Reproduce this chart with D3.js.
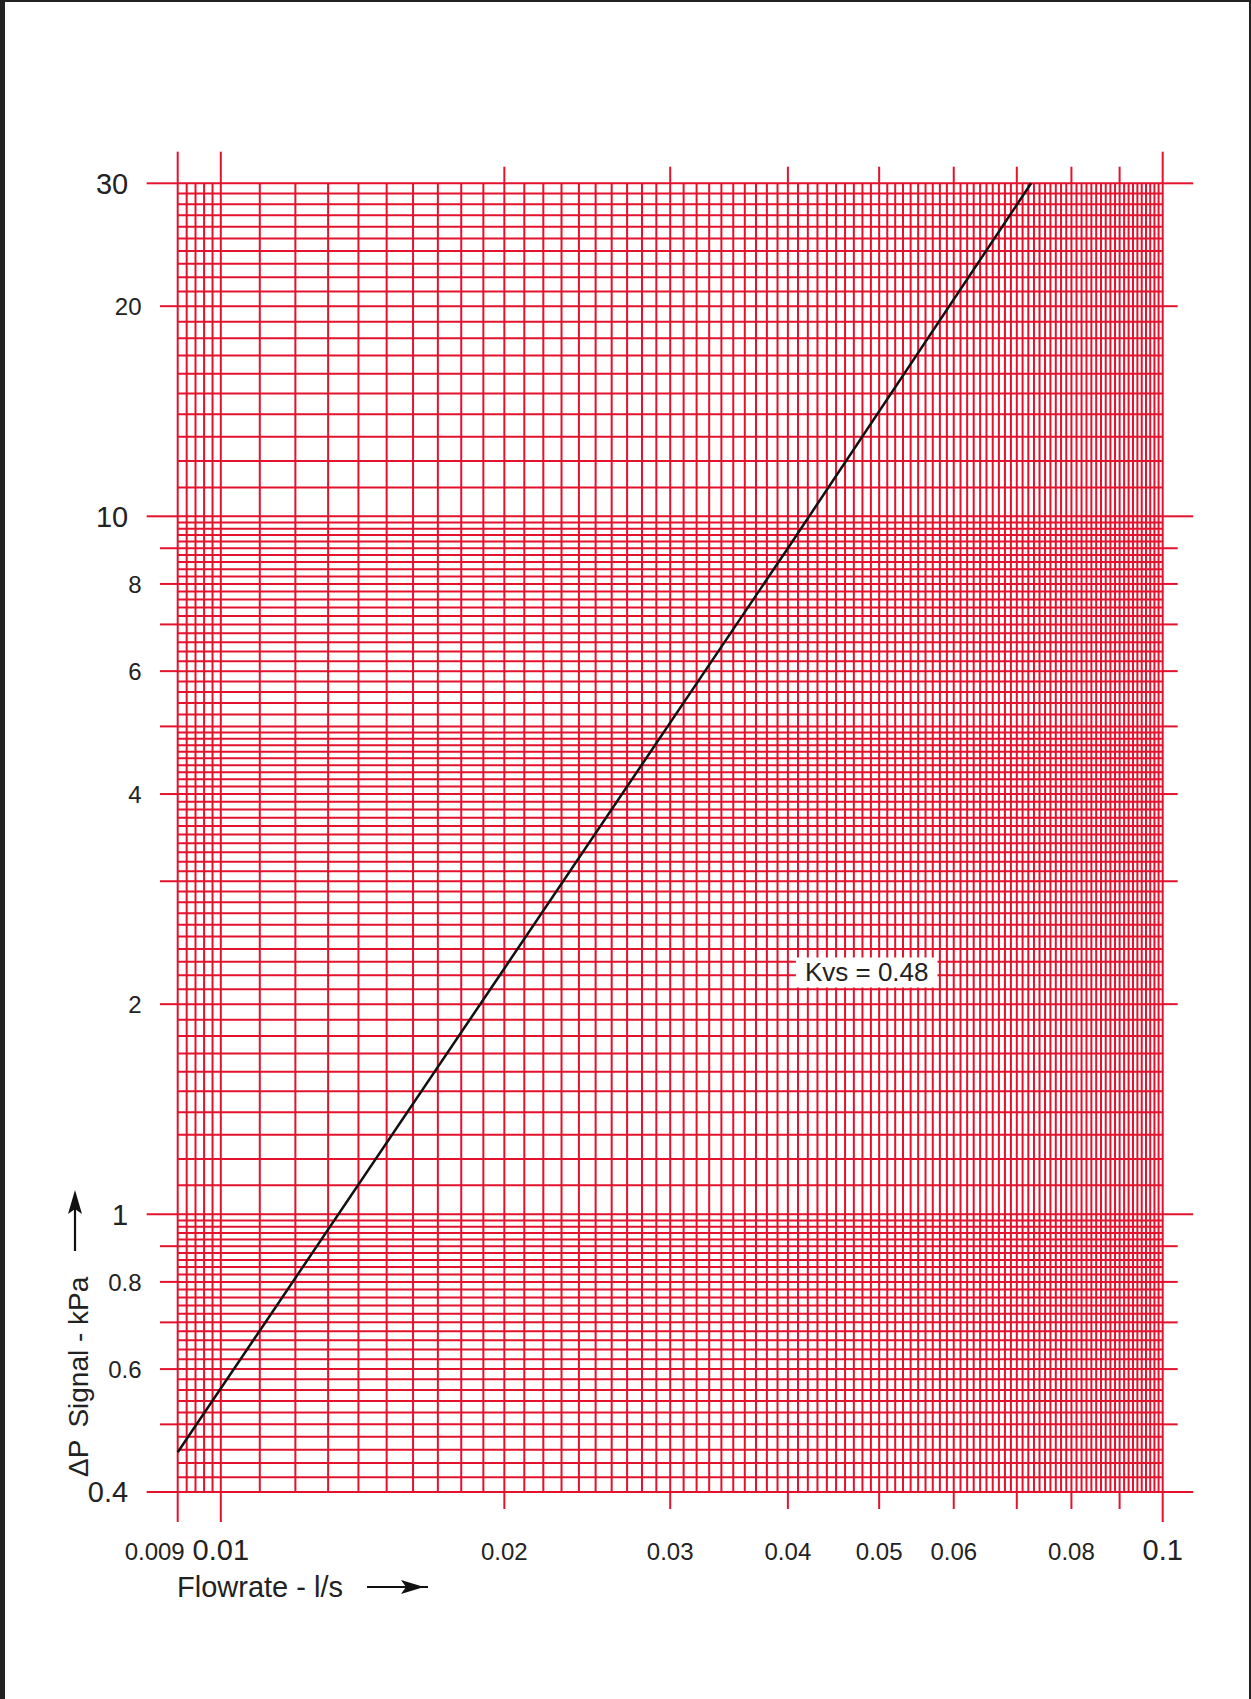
<!DOCTYPE html>
<html>
<head>
<meta charset="utf-8">
<script src="https://cdn.jsdelivr.net/npm/d3@7"></script>
<style>
  body { margin: 0; background: #fff; }
  svg { display: block; }
  text { font-family: "Liberation Sans", Arial, sans-serif; fill: #222; }
</style>
</head>
<body>
<script>
// flowrate axis (l/s)
var xTickMarks = [0.009, 0.01, 0.02, 0.03, 0.04, 0.05, 0.06, 0.07, 0.08, 0.09, 0.1];
var xTickLabels = [0.009, 0.01, 0.02, 0.03, 0.04, 0.05, 0.06, 0.08, 0.1];
var xMajor = [0.009, 0.01, 0.1];

// differential pressure axis (kPa)
var yTickMarks = [0.4, 0.5, 0.6, 0.7, 0.8, 0.9, 1, 2, 3, 4, 5, 6, 7, 8, 9, 10, 20, 30];
var yTickLabels = [0.4, 0.6, 0.8, 1, 2, 4, 6, 8, 10, 20, 30];
var yMajor = [0.4, 1, 10, 30];

// grid of the log paper
var xGrid = d3.range(90, 100, 2).map((d) => d / 10000)
    .concat(d3.range(10, 101).map((d) => d / 1000));
var yGrid = d3.range(20, 50).map((d) => d / 50)
    .concat(d3.range(10, 50).map((d) => d / 10))
    .concat(d3.range(25, 50).map((d) => d / 5))
    .concat(d3.range(10, 31));

// valve characteristic
var kvsLine = [
    [0.009, 0.456],
    [0.02, 2.25],
    [0.04, 9.0],
    [0.0725, 30],
];
var kvsLabel = "Kvs = 0.48";

var W = 1251, H = 1699;
var red = "#e3122d";

var svg = d3.select("body").append("svg").attr("width", W).attr("height", H);
svg.append("rect").attr("width", W).attr("height", H).attr("fill", "#fff");

var x = d3.scaleLog().domain([0.009, 0.1]).range([177.7, 1162.7]);
var y = d3.scaleLog().domain([0.4, 30]).range([1492, 183.3]);

var isMajorX = (d) => xMajor.some((m) => Math.abs(m - d) < 1e-9);
var isMajorY = (d) => yMajor.some((m) => Math.abs(m - d) < 1e-9);

// grid
var grid = svg.append("g").attr("stroke", red).attr("stroke-width", 2);
grid.selectAll("line.v")
    .data(xGrid)
    .join("line")
    .attr("class", "v")
    .attr("x1", (d) => x(d))
    .attr("x2", (d) => x(d))
    .attr("y1", y(30))
    .attr("y2", y(0.4));
grid.selectAll("line.h")
    .data(yGrid)
    .join("line")
    .attr("class", "h")
    .attr("x1", x(0.009))
    .attr("x2", x(0.1))
    .attr("y1", (d) => y(d))
    .attr("y2", (d) => y(d));

// ticks outside the grid
var ticks = svg.append("g").attr("stroke", red).attr("stroke-width", 2);
ticks.selectAll("line.tt")
    .data(xTickMarks)
    .join("line")
    .attr("class", "tt")
    .attr("x1", (d) => x(d))
    .attr("x2", (d) => x(d))
    .attr("y1", y(30))
    .attr("y2", (d) => y(30) - (isMajorX(d) ? 31.6 : 16.6));
ticks.selectAll("line.tb")
    .data(xTickMarks)
    .join("line")
    .attr("class", "tb")
    .attr("x1", (d) => x(d))
    .attr("x2", (d) => x(d))
    .attr("y1", y(0.4))
    .attr("y2", (d) => y(0.4) + (isMajorX(d) ? 30 : 17));
ticks.selectAll("line.tl")
    .data(yTickMarks)
    .join("line")
    .attr("class", "tl")
    .attr("y1", (d) => y(d))
    .attr("y2", (d) => y(d))
    .attr("x1", x(0.009))
    .attr("x2", (d) => x(0.009) - (isMajorY(d) ? 31 : 17.7));
ticks.selectAll("line.tr")
    .data(yTickMarks)
    .join("line")
    .attr("class", "tr")
    .attr("y1", (d) => y(d))
    .attr("y2", (d) => y(d))
    .attr("x1", x(0.1))
    .attr("x2", (d) => x(0.1) + (isMajorY(d) ? 30.5 : 15));

// tick labels
svg.append("g")
    .selectAll("text")
    .data(xTickLabels)
    .join("text")
    .attr("x", (d, i) => (i === 0 ? x(d) + 7 : x(d)))
    .attr("y", 1560)
    .attr("text-anchor", (d, i) => (i === 0 ? "end" : "middle"))
    .attr("font-size", (d, i) => (i > 0 && isMajorX(d) ? 29 : 24))
    .text((d) => d);

svg.append("g")
    .selectAll("text")
    .data(yTickLabels)
    .join("text")
    .attr("x", (d) => x(0.009) - (isMajorY(d) ? 31 : 17.7) - 18.5)
    .attr("y", (d) => y(d))
    .attr("dy", "0.36em")
    .attr("text-anchor", "end")
    .attr("font-size", (d) => (isMajorY(d) ? 29 : 24))
    .text((d) => d);

// characteristic line
svg.append("path")
    .datum(kvsLine)
    .attr("fill", "none")
    .attr("stroke", "#111")
    .attr("stroke-width", 2.5)
    .attr("d", d3.line().x((d) => x(d[0])).y((d) => y(d[1])));

// Kvs label with white background
var lab = svg.append("g");
var labBox = lab.append("rect").attr("fill", "#fff");
var labText = lab.append("text")
    .attr("x", x(0.0485))
    .attr("y", y(2.23))
    .attr("dy", "0.36em")
    .attr("text-anchor", "middle")
    .attr("font-size", 26)
    .text(kvsLabel);
var bb = labText.node().getBBox();
labBox.attr("x", bb.x - 9).attr("y", bb.y + 1)
    .attr("width", bb.width + 18).attr("height", bb.height);

// axis titles with arrows
svg.append("text")
    .attr("x", 177)
    .attr("y", 1597)
    .attr("font-size", 29)
    .text("Flowrate - l/s");
svg.append("line")
    .attr("x1", 367).attr("x2", 428)
    .attr("y1", 1587).attr("y2", 1587)
    .attr("stroke", "#111").attr("stroke-width", 2.2);
svg.append("polygon")
    .attr("points", [[424, 1587], [401, 1580], [406, 1587], [401, 1594]])
    .attr("fill", "#111");

var yt = svg.append("text")
    .attr("transform", "translate(88,1477) rotate(-90)")
    .attr("font-size", 28);
yt.append("tspan").text("ΔP");
yt.append("tspan").attr("dx", 12).text("Signal - kPa");
svg.append("line")
    .attr("x1", 75).attr("x2", 75)
    .attr("y1", 1251).attr("y2", 1200)
    .attr("stroke", "#111").attr("stroke-width", 2.2);
svg.append("polygon")
    .attr("points", [[75, 1190], [82, 1214], [75, 1209], [68, 1214]])
    .attr("fill", "#111");

// page frame
var frame = svg.append("g").attr("stroke", "#222");
frame.append("line").attr("x1", 0).attr("x2", W).attr("y1", 1).attr("y2", 1).attr("stroke-width", 2);
frame.append("line").attr("x1", 2.5).attr("x2", 2.5).attr("y1", 0).attr("y2", H).attr("stroke-width", 5);
frame.append("line").attr("x1", 1250).attr("x2", 1250).attr("y1", 0).attr("y2", H).attr("stroke-width", 2);
</script>
</body>
</html>
